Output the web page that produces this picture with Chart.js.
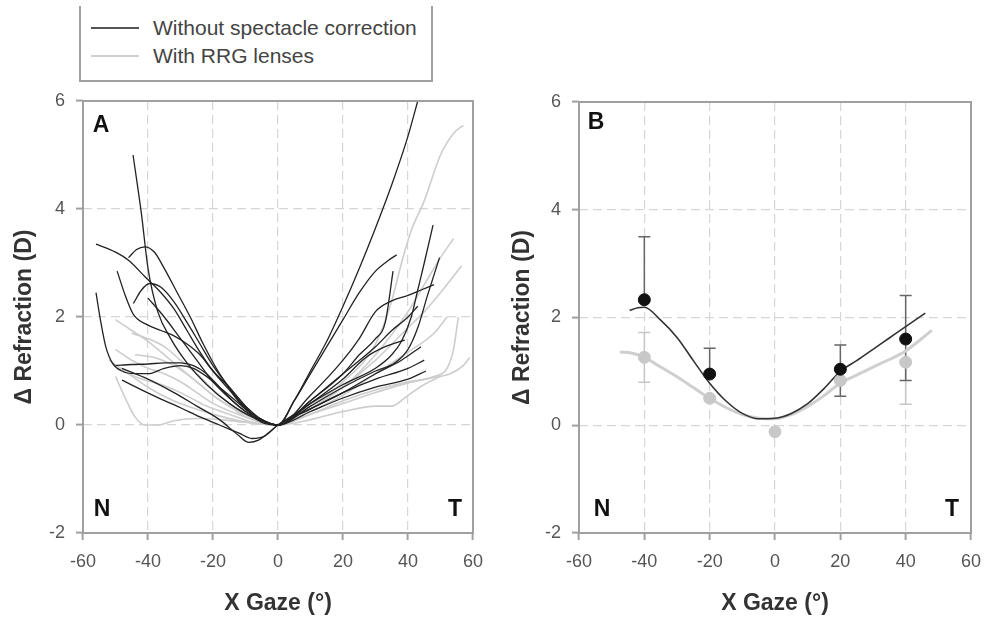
<!DOCTYPE html>
<html>
<head>
<meta charset="utf-8">
<script src="https://cdn.jsdelivr.net/npm/chart.js@4.4.1/dist/chart.umd.min.js"></script>
<style>
  body { margin: 0; background: #fff; font-family: "Liberation Sans", Arial, sans-serif; }
  #wrap { position: relative; width: 985px; height: 617px; overflow: hidden; }
  canvas { position: absolute; top: 0; }
  #legend { position: absolute; left: 79px; top: 6px; width: 350px; height: 74px;
    border: 2px solid #a0a0a0; border-top: none; background: #fff; z-index: 2; }
  .row { position: absolute; left: 10px; height: 24px; }
  .swatch { position: absolute; left: 0; top: 11px; width: 48px; height: 2px; }
  .label { position: absolute; left: 62px; top: 0; font-size: 21px; line-height: 24px; color: #444; white-space: nowrap; }
</style>
</head>
<body>
<div id="wrap">
  <canvas id="panelA" width="490" height="617" style="left:0"></canvas>
  <canvas id="panelB" width="495" height="617" style="left:490px"></canvas>
  <div id="legend">
    <div class="row" style="top:10px"><div class="swatch" style="background:#555"></div><div class="label">Without spectacle correction</div></div>
    <div class="row" style="top:38px"><div class="swatch" style="background:#d0d0d0"></div><div class="label">With RRG lenses</div></div>
  </div>
</div>
<script>
// ---- Panel A: individual curves [gaze, delta refraction] ----
const naked1 = [[-44.6,5.0],[-42,3.9],[-40,2.9],[-37,2.1],[-33,1.6],[-28,1.15],[-22,0.75],[-15,0.4],[-8,0.15],[0,0],
  [5,0.45],[10,1.0],[15,1.55],[20,2.2],[25,2.9],[30,3.65],[35,4.45],[40,5.35],[43,6.0]];
const naked2 = [[-56,3.35],[-50,3.2],[-46,3.05],[-41,2.75],[-36,2.45],[-32,2.15],[-28,1.75],[-24,1.35],[-20,1.0],[-15,0.65],[-10,0.3],[-5,0.1],[0,0],
  [5,0.45],[10,0.95],[15,1.45],[20,1.95],[25,2.45],[30,2.85],[34,3.05],[36.5,3.15]];
const naked3 = [[-46,3.1],[-43.5,3.25],[-41,3.3],[-38,3.2],[-35,2.9],[-31,2.45],[-27,2.0],[-23,1.5],[-18,0.95],[-12,0.45],[-6,0.12],[0,0],
  [10,0.4],[20,0.75],[30,1.05],[35,1.3],[38,1.55],[41,2.0],[43,2.5],[45,3.0],[47.7,3.7]];
const naked4 = [[-44.5,2.25],[-42,2.5],[-39.5,2.62],[-36,2.55],[-32,2.28],[-28,1.9],[-24,1.5],[-20,1.1],[-15,0.7],[-10,0.35],[-5,0.1],[0,0],
  [10,0.35],[20,0.7],[30,1.0],[36,1.15],[40,1.4],[43,1.8],[46,2.4],[49.7,3.1]];
const naked5 = [[-49.5,2.85],[-47,2.4],[-44.5,2.05],[-40,1.85],[-36,1.75],[-32,1.65],[-28,1.5],[-24,1.3],[-20,1.0],[-15,0.7],[-10,0.35],[-5,0.1],[0,0],
  [10,0.45],[20,0.95],[25,1.3],[30,1.6],[33,1.9],[35.4,2.85]];
const naked6 = [[-56,2.45],[-54.5,1.9],[-53,1.45],[-51,1.15],[-48,1.0],[-44,0.95],[-40,0.95],[-35,1.05],[-30,1.1],[-26,1.05],[-22,0.9],[-18,0.7],[-13,0.45],[-8,0.2],[0,0],
  [10,0.55],[20,1.2],[25,1.6],[30,2.1],[35,2.3],[40,2.4],[44,2.5],[48,2.6]];
const naked7 = [[-50,1.1],[-45,1.12],[-40,1.13],[-35,1.15],[-30,1.15],[-26,1.1],[-22,0.95],[-18,0.7],[-14,0.45],[-10,0.25],[-5,0.05],[0,0],
  [10,0.45],[20,0.95],[30,1.45],[35,1.75],[40,2.0],[43,2.2]];
const naked8 = [[-48,0.83],[-42,0.65],[-36,0.48],[-30,0.32],[-24,0.15],[-18,0.0],[-12,-0.15],[-8,-0.25],[-4,-0.2],[0,0],
  [10,0.3],[20,0.6],[30,0.95],[38,1.2],[44,1.45]];
const naked9 = [[-48,1.05],[-40,0.85],[-32,0.6],[-25,0.35],[-18,0.1],[-12,-0.2],[-9,-0.32],[-6,-0.28],[-3,-0.15],[0,0],
  [10,0.3],[20,0.6],[30,0.85],[40,1.05],[45,1.2]];
const naked10 = [[-40,2.35],[-35,2.0],[-30,1.6],[-25,1.2],[-20,0.8],[-15,0.5],[-10,0.25],[-5,0.08],[0,0],
  [10,0.25],[20,0.5],[30,0.7],[40,0.85],[45.5,1.0]];
const naked11 = [[0,0],[10,0.4],[20,0.85],[27,1.25],[33,1.45],[39,1.57]];

const rrg1 = [[-50,1.95],[-45,1.75],[-40,1.55],[-35,1.3],[-30,1.05],[-25,0.8],[-20,0.55],[-15,0.35],[-10,0.15],[0,0],
  [10,0.35],[20,0.8],[30,1.5],[35,2.3],[38,3.0],[41,3.6],[45,4.15],[50,5.0],[54,5.4],[57,5.55]];
const rrg2 = [[-50,1.4],[-45,1.2],[-40,1.05],[-35,0.95],[-30,0.8],[-25,0.6],[-20,0.4],[-10,0.15],[0,0],
  [10,0.3],[20,0.7],[30,1.3],[40,2.1],[45,2.6],[50,3.1],[54,3.45]];
const rrg3 = [[-50,0.9],[-47,0.5],[-44,0.15],[-41,0.0],[-37,0.0],[-32,0.08],[-25,0.12],[-18,0.1],[-10,0.05],[0,0],
  [10,0.3],[20,0.7],[30,1.2],[40,1.8],[45,2.1],[50,2.45],[56.5,2.95]];
const rrg4 = [[-48,1.0],[-42,0.85],[-36,0.75],[-30,0.6],[-22,0.35],[-15,0.2],[-8,0.05],[0,0],
  [10,0.2],[20,0.45],[30,0.65],[40,0.8],[48,0.9],[52,1.05],[54,1.4],[55.5,2.0]];
const rrg5 = [[-45,1.7],[-40,1.6],[-35,1.45],[-30,1.2],[-25,0.95],[-20,0.65],[-15,0.4],[-10,0.2],[0,0],
  [10,0.2],[20,0.4],[30,0.6],[40,0.78],[48,0.88],[53,0.95],[57,1.1],[59,1.25]];
const rrg6 = [[-44,1.3],[-38,1.25],[-32,1.1],[-26,0.85],[-20,0.55],[-12,0.25],[0,0],
  [10,0.1],[20,0.25],[30,0.35],[35,0.35],[40,0.55],[45,0.75],[50,0.9]];
const rrg7 = [[-52,1.2],[-46,0.95],[-40,0.7],[-34,0.5],[-28,0.35],[-20,0.2],[-12,0.08],[0,0],
  [10,0.25],[20,0.55],[30,0.95],[40,1.35],[48,1.7],[52,2.0]];

const nakedCurves = [naked1, naked2, naked3, naked4, naked5, naked6, naked7, naked8, naked9, naked10, naked11];
const rrgCurves = [rrg1, rrg2, rrg3, rrg4, rrg5, rrg6, rrg7];

// ---- Panel B: means, error bars and fitted curves ----
const gazeB = [-40, -20, 0, 20, 40];
const nakedMean = [2.33, 0.95, null, 1.04, 1.6];
const nakedErrUp = [1.17, 0.48, null, 0.45, 0.81];
const nakedErrDown = [null, null, null, 0.5, 0.77];
const rrgMean = [1.26, 0.5, -0.12, 0.83, 1.17];
const rrgErrUp = [0.46, null, null, null, null];
const rrgErrDown = [0.46, null, null, null, 0.78];

const nakedFitX = [-44.5, -42, -40, -35, -30, -25, -20, -15, -10, -5, 0, 5, 10, 15, 20, 25, 30, 35, 40, 46];
const nakedFitY = [2.13, 2.18, 2.19, 1.95, 1.63, 1.2, 0.78, 0.45, 0.22, 0.12, 0.13, 0.22, 0.4, 0.68, 1.0, 1.2, 1.41, 1.62, 1.83, 2.08];
const rrgFitX = [-47.5, -44, -40, -35, -30, -25, -20, -15, -10, -5, 0, 5, 10, 15, 20, 25, 30, 35, 40, 48];
const rrgFitY = [1.36, 1.34, 1.26, 1.08, 0.9, 0.7, 0.5, 0.33, 0.2, 0.13, 0.12, 0.2, 0.35, 0.55, 0.78, 0.93, 1.08, 1.22, 1.38, 1.76];

const xTicks = [-60, -40, -20, 0, 20, 40, 60];
const yTicks = [-2, 0, 2, 4, 6];

const DARK = '#222';
const LIGHT = '#cdcdcd';

function pairs(arr) { return arr.map(p => ({ x: p[0], y: p[1] })); }
function zip(xs, ys) { return xs.map((x, i) => ({ x, y: ys[i] })).filter(p => p.y !== null); }

// frame + panel letters
const framePlugin = {
  id: 'frame',
  afterDatasetsDraw(chart, args, opts) {
    const { ctx, chartArea: a } = chart;
    ctx.save();
    ctx.strokeStyle = '#a0a0a0';
    ctx.lineWidth = 2;
    ctx.strokeRect(a.left, a.top, a.right - a.left, a.bottom - a.top);
    ctx.fillStyle = '#111';
    ctx.font = 'bold 23px "Liberation Sans", Arial, sans-serif';
    ctx.textBaseline = 'middle';
    ctx.textAlign = 'center';
    ctx.fillText(opts.letter, a.left + opts.lx, a.top + opts.ly);
    ctx.fillText('N', a.left + opts.nx, a.bottom - 23);
    ctx.fillText('T', a.right - opts.tx, a.bottom - 23);
    ctx.restore();
  }
};

// error bars for panel B
const errorBarPlugin = {
  id: 'errbars',
  beforeDatasetsDraw(chart) {
    const { ctx, scales: { x, y } } = chart;
    const draw = (means, up, down, color) => {
      ctx.strokeStyle = color;
      ctx.lineWidth = 1.5;
      gazeB.forEach((g, i) => {
        if (means[i] === null) return;
        const px = x.getPixelForValue(g);
        const py = y.getPixelForValue(means[i]);
        [[up[i], 1], [down[i], -1]].forEach(([e, s]) => {
          if (e === null) return;
          const ey = y.getPixelForValue(means[i] + s * e);
          ctx.beginPath();
          ctx.moveTo(px, py); ctx.lineTo(px, ey);
          ctx.moveTo(px - 6, ey); ctx.lineTo(px + 6, ey);
          ctx.stroke();
        });
      });
    };
    ctx.save();
    draw(rrgMean, rrgErrUp, rrgErrDown, '#c6c6c6');
    draw(nakedMean, nakedErrUp, nakedErrDown, '#666');
    ctx.restore();
  }
};

function makeScales(yWidth, yTitlePad) {
  const tickFont = { family: '"Liberation Sans", Arial, sans-serif', size: 18 };
  const titleFont = { family: '"Liberation Sans", Arial, sans-serif', size: 23, weight: 'bold' };
  const grid = {
    color: c => (c.tick && (c.tick.value === -60 || c.tick.value === 60 || c.tick.value === 6 || c.tick.value === -2)) ? 'rgba(0,0,0,0)' : '#d6d6d6',
    lineWidth: 1.2,
    tickColor: '#a0a0a0',
    tickWidth: 2,
    tickLength: 7,
    tickBorderDash: []
  };
  return {
    x: {
      type: 'linear', min: -60, max: 60,
      afterBuildTicks: s => { s.ticks = xTicks.map(v => ({ value: v })); },
      afterFit: s => { s.height = 84; s.paddingLeft = 0; s.paddingRight = 0; },
      ticks: { font: tickFont, color: '#555', padding: 11, maxRotation: 0 },
      grid: grid,
      border: { display: false, dash: [9, 5] },
      title: { display: true, text: 'X Gaze (°)', font: titleFont, color: '#333', padding: { top: 0, bottom: 0 } }
    },
    y: {
      type: 'linear', min: -2, max: 6,
      afterBuildTicks: s => { s.ticks = yTicks.map(v => ({ value: v })); },
      afterFit: s => { s.width = yWidth; s.paddingTop = 0; s.paddingBottom = 0; },
      ticks: { font: tickFont, color: '#555', padding: 11 },
      grid: grid,
      border: { display: false, dash: [9, 5] },
      title: { display: true, text: 'Δ Refraction (D)', font: titleFont, color: '#333', padding: { top: yTitlePad, bottom: 0 } }
    }
  };
}

const baseLine = { pointRadius: 0, fill: false, cubicInterpolationMode: 'monotone' };

const datasetsA = [];
nakedCurves.forEach((c, i) => datasetsA.push(Object.assign({
  label: 'Without spectacle correction ' + (i + 1), data: pairs(c),
  borderColor: DARK, borderWidth: 1.3, order: 0
}, baseLine)));
rrgCurves.forEach((c, i) => datasetsA.push(Object.assign({
  label: 'With RRG lenses ' + (i + 1), data: pairs(c),
  borderColor: LIGHT, borderWidth: 1.6, order: 1
}, baseLine)));

new Chart(document.getElementById('panelA'), {
  type: 'line',
  data: { datasets: datasetsA },
  options: {
    responsive: false, animation: false, devicePixelRatio: 1,
    layout: { padding: { left: 0, right: 17, top: 101, bottom: 0 } },
    plugins: { legend: { display: false }, tooltip: { enabled: false },
      frame: { letter: 'A', lx: 18, ly: 25, nx: 19, tx: 18 } },
    scales: makeScales(83, 11)
  },
  plugins: [framePlugin]
});

new Chart(document.getElementById('panelB'), {
  type: 'line',
  data: {
    datasets: [
      { label: 'Without spectacle correction', data: zip(gazeB, nakedMean), showLine: false,
        pointRadius: 6, pointBackgroundColor: '#111', pointBorderColor: '#111', order: 0 },
      { label: 'With RRG lenses', data: zip(gazeB, rrgMean), showLine: false,
        pointRadius: 6, pointBackgroundColor: '#c8c8c8', pointBorderColor: '#c8c8c8', order: 1 },
      Object.assign({ label: 'Fit without correction', data: zip(nakedFitX, nakedFitY),
        borderColor: '#333', borderWidth: 1.6, order: 2 }, baseLine),
      Object.assign({ label: 'Fit with RRG', data: zip(rrgFitX, rrgFitY),
        borderColor: '#cfcfcf', borderWidth: 3, order: 3 }, baseLine)
    ]
  },
  options: {
    responsive: false, animation: false, devicePixelRatio: 1,
    layout: { padding: { left: 0, right: 14, top: 102, bottom: 0 } },
    plugins: { legend: { display: false }, tooltip: { enabled: false },
      frame: { letter: 'B', lx: 17, ly: 21, nx: 23, tx: 19 } },
    scales: makeScales(89, 19)
  },
  plugins: [framePlugin, errorBarPlugin]
});
</script>
</body>
</html>
